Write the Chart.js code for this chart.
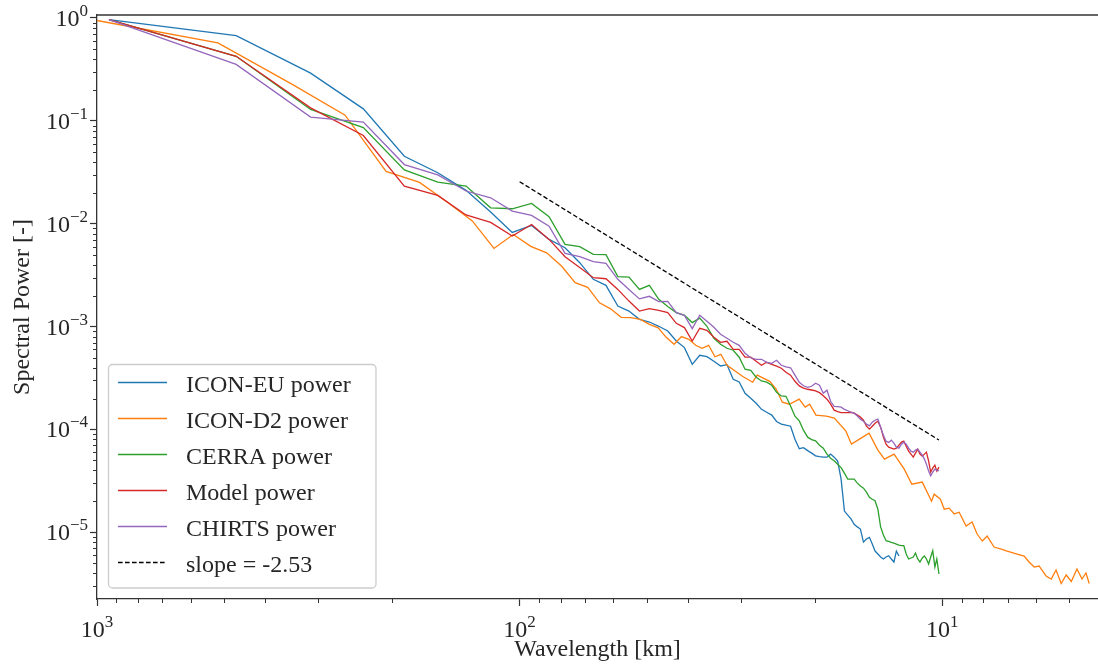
<!DOCTYPE html>
<html>
<head>
<meta charset="utf-8">
<script src="https://cdn.jsdelivr.net/npm/chart.js@4.4.1/dist/chart.umd.min.js"></script>
<style>
  body { margin: 0; background: #fff; }
</style>
</head>
<body>
<canvas id="spectrum" width="1098" height="666"></canvas>
<script>
// wavelengths [km] shared by the 5 km-ish products (ICON-EU uses the first 74)
const coarseWavelength = [
  937, 468.5, 312.3, 234.3, 187.4, 156.2, 133.9, 117.1, 104.1, 93.7,
  85.18, 78.08, 72.08, 66.93, 62.47, 58.56, 55.12, 52.06, 49.32, 46.85,
  44.62, 42.59, 40.74, 39.04, 37.48, 36.04, 34.70, 33.46, 32.31, 31.23,
  30.23, 29.28, 28.39, 27.56, 26.77, 26.03, 25.32, 24.66, 24.03, 23.43,
  22.85, 22.31, 21.79, 21.30, 20.82, 20.37, 19.94, 19.52, 19.12, 18.74,
  18.37, 18.02, 17.68, 17.35, 17.04, 16.73, 16.44, 16.16, 15.88, 15.62,
  15.36, 15.11, 14.87, 14.64, 14.42, 14.20, 13.99, 13.78, 13.58, 13.39,
  13.20, 13.01, 12.84, 12.66, 12.49, 12.33, 12.17, 12.01, 11.86, 11.71,
  11.57, 11.43, 11.29, 11.15, 11.02, 10.90, 10.77, 10.65, 10.53, 10.41,
  10.30, 10.18
];

const euPower = [
  0.965, 0.673, 0.291, 0.1308, 0.0453, 0.0313, 0.0211, 0.01302, 0.00823, 0.00963,
  0.00704, 0.00585, 0.00418, 0.00288, 0.00252, 0.001585, 0.001417, 0.001177, 0.001108, 0.001007,
  0.000906, 0.000725, 0.000625, 0.00043, 0.000526, 0.000511, 0.00046, 0.000414, 0.000426, 0.000308,
  0.00029, 0.000225, 0.000201, 0.00018, 0.000157, 0.000147, 0.000138, 0.0001196, 0.000113, 0.00011,
  0.0001076, 8.05e-5, 6.51e-5, 6.66e-5, 6.23e-5, 5.89e-5, 5.54e-5, 5.44e-5, 5.38e-5, 5.38e-5,
  5.76e-5, 5.38e-5, 4.92e-5, 3.29e-5, 1.61e-5, 1.47e-5, 1.35e-5, 1.20e-5, 1.13e-5, 1.076e-5,
  8.05e-6, 8.61e-6, 8.94e-6, 7.70e-6, 6.58e-6, 6.16e-6, 5.76e-6, 5.51e-6, 5.76e-6, 5.93e-6,
  5.51e-6, 5.15e-6, 6.58e-6, 5.89e-6
];

const cerraPower = [
  0.965, 0.424, 0.129, 0.0861, 0.0333, 0.02534, 0.0232, 0.01429, 0.01398, 0.01574,
  0.0117, 0.0063, 0.00598, 0.00504, 0.005, 0.00306, 0.00303, 0.0023, 0.00252, 0.00184,
  0.00157, 0.001368, 0.001288, 0.001094, 0.00121, 0.001007, 0.00077, 0.000673, 0.000616, 0.000589,
  0.000504, 0.000385, 0.000376, 0.000322, 0.000296, 0.000288, 0.000269, 0.00023, 0.000212, 0.00021,
  0.0001695, 0.0001346, 0.0001212, 9.84e-5, 8.42e-5, 7.96e-5, 7.75e-5, 7.04e-5, 6.58e-5, 5.76e-5,
  5.26e-5, 4.96e-5, 4.60e-5, 4.26e-5, 3.76e-5, 3.29e-5, 3.29e-5, 3.29e-5, 3.01e-5, 2.82e-5,
  2.69e-5, 2.46e-5, 2.19e-5, 2.10e-5, 2.03e-5, 1.68e-5, 1.13e-5, 9.41e-6, 8.29e-6, 8.15e-6,
  8.0e-6, 7.87e-6, 7.70e-6, 7.52e-6, 7.44e-6, 7.42e-6, 6.16e-6, 5.51e-6, 5.63e-6, 5.76e-6,
  6.30e-6, 5.51e-6, 5.15e-6, 5.63e-6, 5.89e-6, 5.51e-6, 4.92e-6, 5.76e-6, 6.63e-6, 4.60e-6,
  5.51e-6, 3.94e-6
];

const modelPower = [
  0.965, 0.424, 0.1337, 0.072, 0.0232, 0.01883, 0.01218, 0.0103, 0.00758, 0.00984,
  0.00704, 0.00478, 0.00376, 0.00299, 0.00292, 0.0023, 0.00177, 0.001417, 0.001496, 0.00144,
  0.001368, 0.001076, 0.000978, 0.000725, 0.000963, 0.00092, 0.000787, 0.000704, 0.00072, 0.000602,
  0.000602, 0.000504, 0.000504, 0.00046, 0.000421, 0.00045, 0.00043, 0.000412, 0.000394, 0.00036,
  0.000337, 0.000294, 0.000265, 0.000252, 0.000246, 0.000242, 0.000237, 0.000228, 0.000213, 0.000197,
  0.000176, 0.000154, 0.000149, 0.000146, 0.000146, 0.000146, 0.000147, 0.000144, 0.000138, 0.000132,
  0.000123, 0.0001076, 0.0001007, 0.0001076, 0.000115, 0.00012, 0.0001053, 8.42e-5, 7.20e-5, 6.73e-5,
  6.58e-5, 6.44e-5, 6.58e-5, 7.04e-5, 7.53e-5, 7.70e-5, 6.88e-5, 6.16e-5, 5.76e-5, 5.38e-5,
  5.89e-5, 6.44e-5, 5.76e-5, 5.51e-5, 5.76e-5, 6.02e-5, 4.92e-5, 3.85e-5, 4.21e-5, 4.50e-5,
  3.94e-5, 4.31e-5
];

const chirtsPower = [
  0.965, 0.354, 0.1088, 0.0973, 0.0376, 0.0298, 0.0208, 0.01788, 0.01326, 0.01204,
  0.00948, 0.00515, 0.00478, 0.00428, 0.00412, 0.00288, 0.0023, 0.00186, 0.00197, 0.00175,
  0.00176, 0.001368, 0.001288, 0.000956, 0.001288, 0.001126, 0.000984, 0.000842, 0.00077, 0.000704,
  0.000658, 0.00055, 0.000498, 0.000481, 0.000481, 0.00045, 0.00044, 0.000471, 0.000421, 0.000407,
  0.000398, 0.000337, 0.000288, 0.000266, 0.000257, 0.000263, 0.000282, 0.000269, 0.000225, 0.000241,
  0.000188, 0.000168, 0.000167, 0.000165, 0.000157, 0.000152, 0.000147, 0.000144, 0.000135, 0.000126,
  0.00012, 0.0001126, 0.0001084, 0.0001177, 0.000123, 0.000126, 0.0001053, 8.81e-5, 7.70e-5, 7.48e-5,
  7.87e-5, 7.36e-5, 6.73e-5, 6.58e-5, 7.20e-5, 7.53e-5, 7.20e-5, 6.58e-5, 6.16e-5, 6.02e-5,
  6.30e-5, 6.44e-5, 6.02e-5, 5.63e-5, 5.15e-5, 4.60e-5, 3.94e-5, 3.54e-5, 3.85e-5, 4.12e-5,
  4.03e-5, 3.96e-5
];

// ICON-D2 runs on its own, finer grid
const d2Wavelength = [
  1035, 517.5, 345, 258.8, 207, 172.5, 147.9, 129.4, 115, 103.5,
  94.1, 86.3, 79.6, 73.9, 69, 64.7, 60.9, 57.5, 54.5, 51.8,
  49.3, 47.0, 45.0, 43.1, 41.4, 39.8, 38.3, 37.0, 35.7, 34.5,
  33.4, 32.3, 29.7, 28.1, 27.4, 25.6, 24.7, 23.9, 23.0, 21.8,
  21.1, 20.6, 19.9, 18.8, 18.0, 16.9, 16.4, 15.7, 14.9, 14.2,
  13.7, 13.0, 12.3, 11.8, 11.15, 10.6, 10.45, 10.1, 9.89, 9.63,
  9.37, 9.12, 8.78, 8.50, 8.27, 8.04, 7.83, 7.54, 7.25, 7.02,
  6.65, 6.40, 6.23, 6.06, 5.90, 5.68, 5.52, 5.38, 5.23, 5.09,
  4.95, 4.80, 4.67, 4.57, 4.49
];
const d2Power = [
  0.97, 0.572, 0.226, 0.1136, 0.0322, 0.0252, 0.0161, 0.01064, 0.00575, 0.00787,
  0.00602, 0.00521, 0.00388, 0.002674, 0.002408, 0.001703, 0.001489, 0.00123, 0.001224, 0.001177,
  0.001052, 0.000973, 0.000787, 0.000673, 0.0008, 0.000753, 0.000658, 0.000616, 0.000658, 0.000509,
  0.000538, 0.000421, 3.29e-4, 2.88e-4, 3.37e-4, 2.94e-4, 2.46e-4, 1.84e-4, 1.76e-4, 1.97e-4,
  1.65e-4, 1.76e-4, 1.38e-4, 1.35e-4, 1.29e-4, 9.63e-5, 7.20e-5, 8.05e-5, 9.21e-5, 6.30e-5,
  5.15e-5, 5.76e-5, 4.12e-5, 2.94e-5, 3.08e-5, 2.01e-5, 2.35e-5, 2.10e-5, 1.68e-5, 1.72e-5,
  1.51e-5, 1.57e-5, 1.15e-5, 1.26e-5, 9.63e-6, 8.23e-6, 9.21e-6, 7.20e-6, 6.88e-6, 6.58e-6,
  6.16e-6, 5.89e-6, 5.15e-6, 4.60e-6, 4.71e-6, 3.77e-6, 3.52e-6, 4.31e-6, 3.18e-6, 3.85e-6,
  3.33e-6, 4.40e-6, 3.52e-6, 4.03e-6, 3.18e-6
];

// reference power law, slope = -2.53
const slopeWavelength = [100, 10.18];
const slopePower = [0.0256, 7.9e-5];

const INK = '#262626';
const SPINE = '#333333';
const FONT = "'Liberation Serif', 'DejaVu Serif', serif";

const pairs = (xs, ys) => ys.map((y, i) => ({ x: xs[i], y: y }));
const isDecade = v => {
  const l = Math.log10(v);
  return Math.abs(l - Math.round(l)) < 1e-6;
};

const makeSet = (label, xs, ys, color, order, dash) => ({
  label: label,
  data: pairs(xs, ys),
  borderColor: color,
  backgroundColor: color,
  borderWidth: 1.3,
  borderDash: dash || [],
  pointRadius: 0,
  tension: 0,
  fill: false,
  order: order
});

// "10" with a raised exponent, like matplotlib's log tick labels
function drawDecade(ctx, exp, x, y, align) {
  const base = '10';
  const sup = exp < 0 ? '\u2212' + (-exp) : String(exp);
  ctx.font = '24px ' + FONT;
  const wb = ctx.measureText(base).width;
  ctx.font = '17px ' + FONT;
  const ws = ctx.measureText(sup).width;
  const x0 = align === 'center' ? x - (wb + ws) / 2 : x - wb - ws;
  ctx.font = '24px ' + FONT;
  ctx.fillText(base, x0, y);
  ctx.font = '17px ' + FONT;
  ctx.fillText(sup, x0 + wb, y - 10);
}

const axisDecor = {
  id: 'axisDecor',
  afterDraw(chart) {
    const { ctx, chartArea: a, scales: { x, y } } = chart;
    ctx.save();
    ctx.strokeStyle = SPINE;
    ctx.fillStyle = INK;

    // top spine
    ctx.lineWidth = 1.3;
    ctx.beginPath();
    ctx.moveTo(a.left, a.top);
    ctx.lineTo(a.right, a.top);
    ctx.stroke();

    // minor ticks
    ctx.lineWidth = 1;
    ctx.beginPath();
    for (let e = -7; e <= 3; e++) {
      for (let m = 2; m <= 9; m++) {
        const v = m * Math.pow(10, e);
        if (v > y.min && v < y.max) {
          const py = Math.round(y.getPixelForValue(v)) + 0.5;
          ctx.moveTo(a.left - 4, py);
          ctx.lineTo(a.left, py);
        }
        if (v > x.min && v < x.max) {
          const px = Math.round(x.getPixelForValue(v)) + 0.5;
          ctx.moveTo(px, a.bottom);
          ctx.lineTo(px, a.bottom + 4);
        }
      }
    }
    ctx.stroke();

    // decade labels
    ctx.textBaseline = 'alphabetic';
    ctx.textAlign = 'left';
    for (let e = -7; e <= 3; e++) {
      const v = Math.pow(10, e);
      if (v >= y.min && v <= y.max) {
        drawDecade(ctx, e, a.left - 9, y.getPixelForValue(v) + 8, 'right');
      }
      if (v >= x.min && v <= x.max) {
        drawDecade(ctx, e, x.getPixelForValue(v), a.bottom + 38, 'center');
      }
    }
    ctx.restore();
  }
};

const boxLegend = {
  id: 'boxLegend',
  afterDraw(chart) {
    const ctx = chart.ctx;
    const bx = 108.5, by = 364.5, bw = 267.5, bh = 223.5, r = 4;
    ctx.save();
    ctx.beginPath();
    ctx.roundRect(bx, by, bw, bh, r);
    ctx.fillStyle = 'rgba(255,255,255,0.8)';
    ctx.fill();
    ctx.strokeStyle = '#cccccc';
    ctx.lineWidth = 1.3;
    ctx.stroke();

    ctx.font = '24px ' + FONT;
    ctx.textBaseline = 'alphabetic';
    ctx.textAlign = 'left';
    chart.data.datasets.forEach((ds, i) => {
      const rowY = 382.5 + i * 36;
      ctx.strokeStyle = ds.borderColor;
      ctx.lineWidth = 1.3;
      ctx.setLineDash(ds.borderDash);
      ctx.beginPath();
      ctx.moveTo(118, rowY);
      ctx.lineTo(167, rowY);
      ctx.stroke();
      ctx.setLineDash([]);
      ctx.fillStyle = INK;
      ctx.fillText(ds.label, 186, rowY + 9.5);
    });
    ctx.restore();
  }
};

new Chart(document.getElementById('spectrum'), {
  type: 'line',
  data: {
    datasets: [
      makeSet('ICON-EU power', coarseWavelength, euPower, '#1f77b4', 5),
      makeSet('ICON-D2 power', d2Wavelength, d2Power, '#ff7f0e', 4),
      makeSet('CERRA power', coarseWavelength, cerraPower, '#2ca02c', 3),
      makeSet('Model power', coarseWavelength, modelPower, '#d62728', 2),
      makeSet('CHIRTS power', coarseWavelength, chirtsPower, '#9467bd', 1),
      makeSet('slope = -2.53', slopeWavelength, slopePower, '#000000', 0, [4.6, 2.4])
    ]
  },
  options: {
    responsive: false,
    animation: false,
    events: [],
    layout: { padding: { top: 15, left: 0, right: 0, bottom: 0 } },
    plugins: {
      legend: { display: false },
      tooltip: { enabled: false }
    },
    scales: {
      x: {
        type: 'logarithmic',
        reverse: true,
        min: 4.28,
        max: 1000,
        afterFit: s => { s.height = 67; },
        border: { display: true, color: SPINE, width: 1.3 },
        grid: {
          display: true,
          drawOnChartArea: false,
          drawTicks: true,
          tickLength: 7,
          tickWidth: 1.2,
          tickColor: c => (c.tick && isDecade(c.tick.value)) ? SPINE : 'rgba(0,0,0,0)'
        },
        ticks: { display: false, autoSkip: false },
        title: {
          display: true,
          text: 'Wavelength [km]',
          color: INK,
          font: { family: FONT, size: 24 },
          padding: { top: 0, bottom: 2 }
        }
      },
      y: {
        type: 'logarithmic',
        min: 2.25e-6,
        max: 1.069,
        afterFit: s => { s.width = 97; },
        border: { display: true, color: SPINE, width: 1.3 },
        grid: {
          display: true,
          drawOnChartArea: false,
          drawTicks: true,
          tickLength: 7,
          tickWidth: 1.2,
          tickColor: c => (c.tick && isDecade(c.tick.value)) ? SPINE : 'rgba(0,0,0,0)'
        },
        ticks: { display: false, autoSkip: false },
        title: {
          display: true,
          text: 'Spectral Power [-]',
          color: INK,
          font: { family: FONT, size: 24 },
          padding: { top: 8, bottom: 0 }
        }
      }
    }
  },
  plugins: [axisDecor, boxLegend]
});
</script>
</body>
</html>
